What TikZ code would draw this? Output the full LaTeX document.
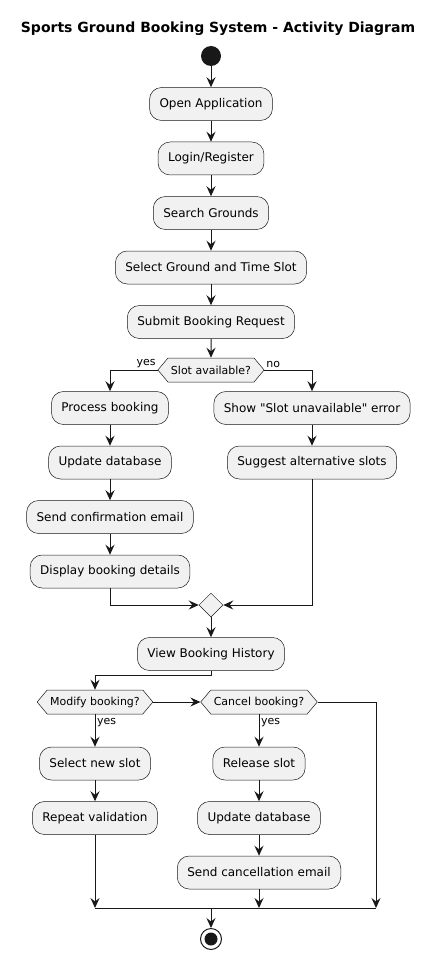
\documentclass[tikz,border=0pt]{standalone}
\usepackage{fontspec}
\setmainfont{DejaVu Sans}[Ligatures=TeXOff]
\usetikzlibrary{arrows.meta, positioning, shapes.geometric, shapes.symbols}

\definecolor{boxfill}{HTML}{F1F1F1}
\definecolor{ink}{HTML}{181818}

\begin{document}
\begin{tikzpicture}[
		x=1pt, y=-1pt,
		node distance=21pt,
		>={Stealth[length=10pt, width=9pt, inset=3.5pt]},
		line width=1pt,
		activity/.style={rectangle, rounded corners=12pt, draw=ink, line width=0.5pt, fill=boxfill,
			inner xsep=10pt, minimum height=33pt, font=\fontsize{12}{14}\selectfont},
		choice/.style={signal, signal to=west and east, signal pointer angle=100, draw=ink, line width=0.5pt,
			fill=boxfill, inner xsep=3pt, inner ysep=0pt, minimum height=24pt, font=\fontsize{11}{13}\selectfont},
		merge/.style={diamond, draw=ink, line width=0.5pt, fill=boxfill, minimum size=24pt, inner sep=0pt},
		guard/.style={font=\fontsize{11}{13}\selectfont, inner sep=1.5pt},
		flow/.style={->, draw=ink}
		]
		
		\useasboundingbox (0,0) rectangle (436,960);
		
		% Title
		\node[font=\fontsize{14}{16}\selectfont\bfseries] (title) at (218,29) {Sports Ground Booking System - Activity Diagram};
		
		% Main column
		\node[circle, fill=ink, minimum size=20pt, inner sep=0pt] (start) at (211,56) {};
		\node[activity] (open) at (211,104) {Open Application};
		\node[activity, below=of open] (login) {Login/Register};
		\node[activity, below=of login] (search) {Search Grounds};
		\node[activity, below=of search] (select) {Select Ground and Time Slot};
		\node[activity, below=of select] (submit) {Submit Booking Request};
		\node[choice] (avail) at (211,370) {Slot available?};
		
		% yes branch
		\node[activity] (process) at (110,408) {Process booking};
		\node[activity, below=of process] (updateA) {Update database};
		\node[activity, below=of updateA] (confirm) {Send confirmation email};
		\node[activity, below=of confirm] (details) {Display booking details};
		
		% no branch
		\node[activity] (error) at (312,408) {Show "Slot unavailable" error};
		\node[activity, below=of error] (suggest) {Suggest alternative slots};
		
		\node[merge] (mergeA) at (211,605) {};
		\node[activity] (history) at (211,654) {View Booking History};
		
		% Modify / cancel
		\node[choice] (modify) at (95,702) {Modify booking?};
		\node[choice] (cancel) at (259,702) {Cancel booking?};
		\node[activity] (newslot) at (95,763.5) {Select new slot};
		\node[activity, below=of newslot] (repeat) {Repeat validation};
		\node[activity] (release) at (259,763.5) {Release slot};
		\node[activity, below=of release] (updateB) {Update database};
		\node[activity, below=of updateB] (cancelmail) {Send cancellation email};
		
		\coordinate (join) at (211,908);
		\coordinate (joinR) at (376,908);
		
		% Stop
		\node[circle, draw=ink, line width=1pt, minimum size=21pt, inner sep=0pt] (stop) at (211,939) {};
		\node[circle, fill=ink, minimum size=13pt, inner sep=0pt] at (stop) {};
		
		% Arrows
		\draw[flow] (start) -- (open);
		\draw[flow] (open) -- (login);
		\draw[flow] (login) -- (search);
		\draw[flow] (search) -- (select);
		\draw[flow] (select) -- (submit);
		\draw[flow] (submit) -- (avail);
		
		\draw[flow] (avail.west) -| node[guard, pos=0, anchor=south east] {yes} (process.north);
		\draw[flow] (avail.east) -| node[guard, pos=0, anchor=south west] {no} (error.north);
		
		\draw[flow] (process) -- (updateA);
		\draw[flow] (updateA) -- (confirm);
		\draw[flow] (confirm) -- (details);
		\draw[flow] (error) -- (suggest);
		
		\draw[flow] (details.south) |- (mergeA.west);
		\draw[flow] (suggest.south) |- (mergeA.east);
		\draw[flow] (mergeA) -- (history);
		
		\draw[flow] (history.south) -- ++(0,5) -| (modify.north);
		\draw[flow] (modify.east) -- (cancel.west);
		\draw[flow] (modify.south) -- node[guard, pos=0, anchor=north west, yshift=-2pt] {yes} (newslot);
		\draw[flow] (cancel.south) -- node[guard, pos=0, anchor=north west, yshift=-2pt] {yes} (release);
		\draw[flow] (newslot) -- (repeat);
		\draw[flow] (release) -- (updateB);
		\draw[flow] (updateB) -- (cancelmail);
		
		% Final join
		\draw[flow] (cancel.east) -| (joinR);
		\draw[flow] (repeat.south) -- (repeat.south |- join);
		\draw[flow] (cancelmail.south) -- (cancelmail.south |- join);
		\draw[ink] (repeat.south |- join) -- (joinR);
		\draw[flow] (join) -- (stop);
		
\end{tikzpicture}
\end{document}
